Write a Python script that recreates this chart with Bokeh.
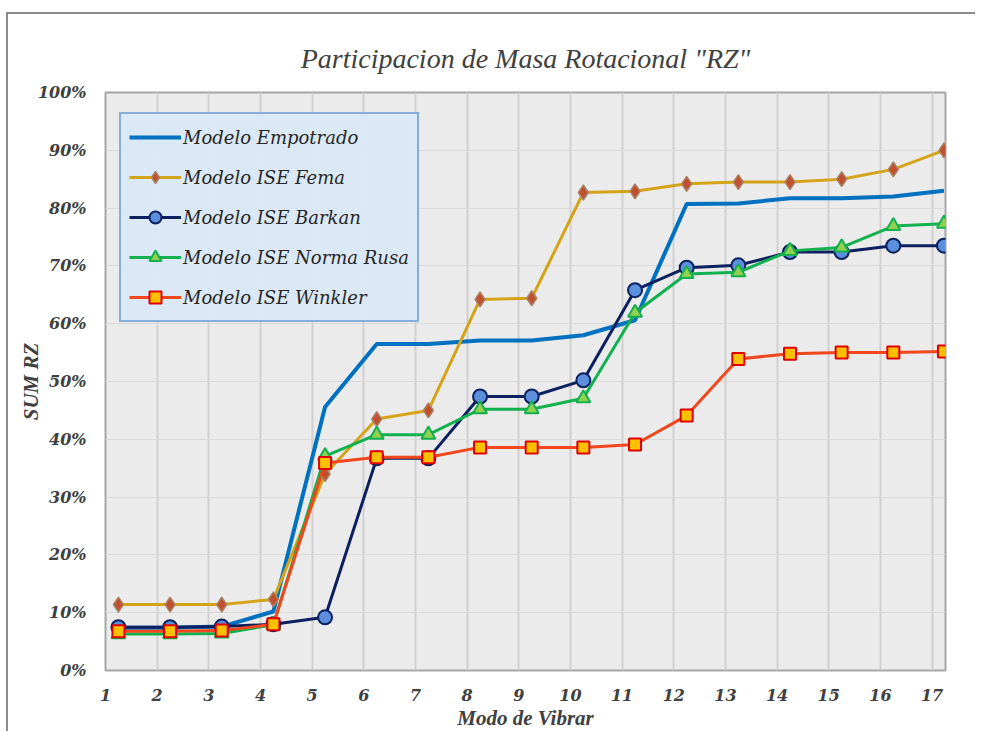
from bokeh.plotting import figure
from bokeh.models import Range1d, FixedTicker, NumeralTickFormatter
from bokeh.embed import file_html
from bokeh.resources import INLINE

# ---- data ----
mode_ticks = list(range(1, 18))
x_pos = [1.25, 2.25, 3.25, 4.25, 5.25, 6.25, 7.25, 8.25, 9.25, 10.25,
         11.25, 12.25, 13.25, 14.25, 15.25, 16.25, 17.23]
empotrado = [0.074, 0.074, 0.076, 0.102, 0.456, 0.565, 0.565, 0.571, 0.571, 0.580,
             0.606, 0.807, 0.808, 0.817, 0.817, 0.820, 0.830]
fema = [0.114, 0.114, 0.114, 0.123, 0.340, 0.435, 0.450, 0.642, 0.644, 0.827,
        0.829, 0.842, 0.845, 0.845, 0.850, 0.867, 0.900]
barkan = [0.075, 0.075, 0.076, 0.080, 0.092, 0.367, 0.367, 0.474, 0.474, 0.502,
          0.658, 0.697, 0.701, 0.724, 0.724, 0.735, 0.735]
norma_rusa = [0.063, 0.063, 0.064, 0.079, 0.371, 0.408, 0.408, 0.452, 0.452, 0.471,
              0.619, 0.686, 0.689, 0.726, 0.732, 0.769, 0.773]
winkler = [0.068, 0.068, 0.069, 0.080, 0.359, 0.369, 0.369, 0.386, 0.386, 0.386,
           0.391, 0.441, 0.539, 0.548, 0.550, 0.550, 0.552]
y_ticks = [i / 10 for i in range(0, 11)]

TXT = "#404040"

p = figure(frame_width=840, frame_height=578, output_backend="svg",
           toolbar_location=None,
           x_range=Range1d(1, 17.26), y_range=Range1d(0, 1),
           min_border_left=97, min_border_right=30, min_border_top=78,
           min_border_bottom=40)
p.styles = {"border-left": "2px solid #8c8c8c", "border-top": "2px solid #8c8c8c",
            "margin-left": "6px", "margin-top": "12px"}

p.title.text = 'Participacion de Masa Rotacional "RZ"'
p.title.text_font = "Liberation Serif"
p.title.text_font_style = "italic"
p.title.text_font_size = "28px"
p.title.text_color = TXT
p.title.align = "center"
p.title.standoff = 37

p.background_fill_color = "#ebebeb"
p.border_fill_color = "white"
p.outline_line_color = "#a6a6a6"
p.outline_line_width = 2

p.xaxis.ticker = FixedTicker(ticks=mode_ticks)
p.yaxis.ticker = FixedTicker(ticks=y_ticks)
p.yaxis.formatter = NumeralTickFormatter(format="0%")
for ax in (p.xaxis, p.yaxis):
    ax.axis_line_color = None
    ax.major_tick_line_color = None
    ax.minor_tick_line_color = None
    ax.major_label_text_font = "DejaVu Serif"
    ax.major_label_text_font_style = "bold italic"
    ax.major_label_text_font_size = "16px"
    ax.major_label_text_color = TXT
    ax.axis_label_text_font = "Liberation Serif"
    ax.axis_label_text_font_style = "bold italic"
    ax.axis_label_text_font_size = "21px"
    ax.axis_label_text_color = TXT
p.xaxis.axis_label = "Modo de Vibrar"
p.yaxis.axis_label = "SUM RZ"
p.xaxis.major_label_standoff = 12
p.yaxis.major_label_standoff = 13
p.xaxis.axis_label_standoff = 2
p.yaxis.axis_label_standoff = -8

p.xgrid.grid_line_color = "#d0d0d0"
p.xgrid.grid_line_width = 2
p.ygrid.grid_line_color = "#dadada"
p.ygrid.grid_line_width = 1

# Series
lbl = "Modelo Empotrado"
p.line(x_pos, empotrado, line_color="#0070C0", line_width=4, legend_label=lbl)

lbl = "Modelo ISE Fema"
p.line(x_pos, fema, line_color="#D4A418", line_width=3, legend_label=lbl)
p.scatter(x_pos, fema, marker="diamond", size=15, fill_color="#C0502E",
          line_color="#A8846A", line_width=1.5, legend_label=lbl)

lbl = "Modelo ISE Barkan"
p.line(x_pos, barkan, line_color="#0C1F5E", line_width=3, legend_label=lbl)
p.scatter(x_pos, barkan, marker="circle", size=14, fill_color="#5B8FDB",
          line_color="#0C1F5E", line_width=2, legend_label=lbl)

lbl = "Modelo ISE Norma Rusa"
p.line(x_pos, norma_rusa, line_color="#12B04E", line_width=3, legend_label=lbl)
p.scatter(x_pos, norma_rusa, marker="triangle", size=14, fill_color="#92D050",
          line_color="#12B04E", line_width=2, legend_label=lbl)

lbl = "Modelo ISE Winkler"
p.line(x_pos, winkler, line_color="#F2461C", line_width=3, legend_label=lbl)
p.scatter(x_pos, winkler, marker="square", size=12, fill_color="#FFC000",
          line_color="#E00000", line_width=2, legend_label=lbl)

leg = p.legend[0]
leg.location = (14, 348)
leg.background_fill_color = "#dae8f6"
leg.background_fill_alpha = 0.97
leg.border_line_color = "#2E75B6"
leg.border_line_width = 2
leg.label_text_font = "DejaVu Serif"
leg.label_text_font_style = "italic"
leg.label_text_font_size = "18px"
leg.label_text_color = "#262626"
leg.glyph_width = 52
leg.glyph_height = 30
leg.label_height = 30
leg.spacing = 10
leg.padding = 8
leg.label_standoff = 2
leg.margin = 0

open("out.html", "w").write(file_html(p, INLINE))
